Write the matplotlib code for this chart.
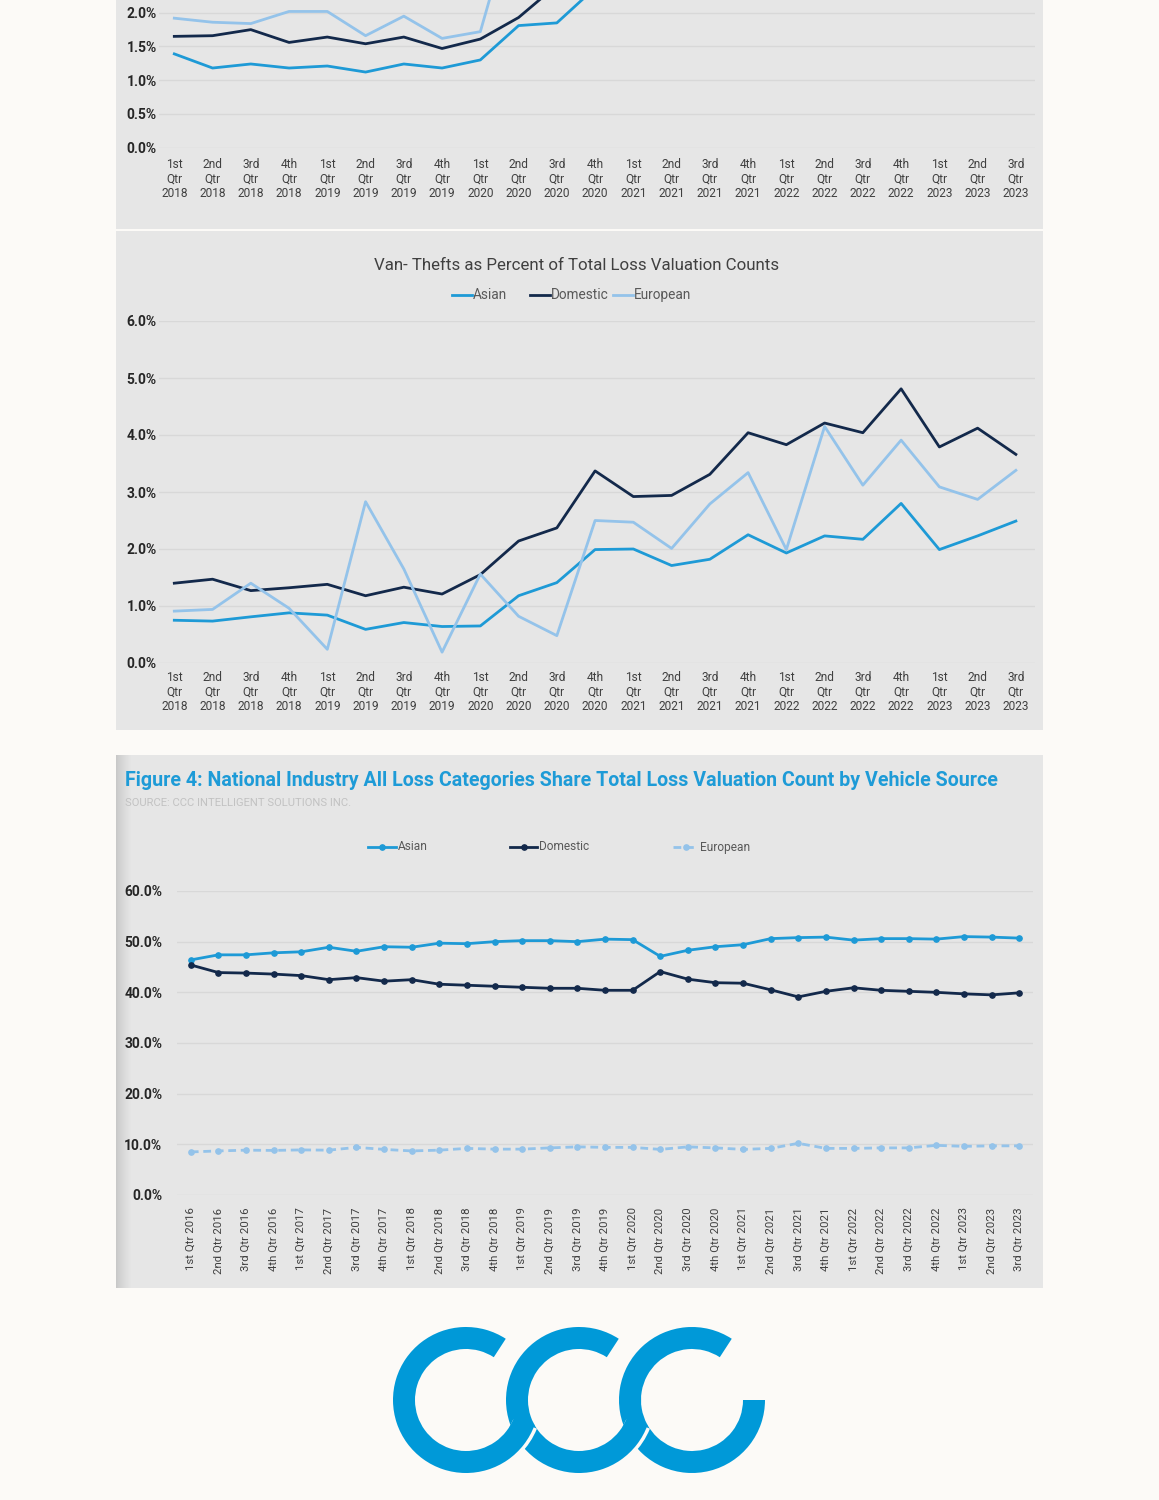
import numpy as np
import matplotlib
matplotlib.use("Agg")
import matplotlib.pyplot as plt
from matplotlib.patches import Rectangle, Wedge
from matplotlib.lines import Line2D

W, H = 1159, 1500
BG = "#FCFAF7"
PANEL = "#E6E6E6"
GRID = "#D8D8D8"
C_ASIAN = "#1E9AD6"
C_DOM = "#13294B"
C_EUR = "#94C3EA"
TXT = "#404040"
LOGO = "#0099D8"

plt.rcParams["font.family"] = ["Roboto", "DejaVu Sans"]

nan = np.nan

# ---------------- data ----------------
series_names = ["Asian", "Domestic", "European"]

quarters_18_23 = [
    "1st\nQtr\n2018", "2nd\nQtr\n2018", "3rd\nQtr\n2018", "4th\nQtr\n2018",
    "1st\nQtr\n2019", "2nd\nQtr\n2019", "3rd\nQtr\n2019", "4th\nQtr\n2019",
    "1st\nQtr\n2020", "2nd\nQtr\n2020", "3rd\nQtr\n2020", "4th\nQtr\n2020",
    "1st\nQtr\n2021", "2nd\nQtr\n2021", "3rd\nQtr\n2021", "4th\nQtr\n2021",
    "1st\nQtr\n2022", "2nd\nQtr\n2022", "3rd\nQtr\n2022", "4th\nQtr\n2022",
    "1st\nQtr\n2023", "2nd\nQtr\n2023", "3rd\nQtr\n2023",
]

# top (cropped) chart: values beyond the visible area are unknown
top_asian = [1.39, 1.18, 1.24, 1.18, 1.21, 1.12, 1.24, 1.18, 1.30, 1.81, 1.85, 2.37,
             nan, nan, nan, nan, nan, nan, nan, nan, nan, nan, nan]
top_domestic = [1.65, 1.66, 1.75, 1.56, 1.64, 1.54, 1.64, 1.47, 1.61, 1.93, 2.41, nan,
                nan, nan, nan, nan, nan, nan, nan, nan, nan, nan, nan]
top_european = [1.92, 1.86, 1.84, 2.02, 2.02, 1.66, 1.95, 1.62, 1.72, 3.70, nan, nan,
                nan, nan, nan, nan, nan, nan, nan, nan, nan, nan, nan]

# Van thefts as percent of total loss valuation counts
van_asian = [0.75, 0.735, 0.81, 0.88, 0.84, 0.59, 0.71, 0.64, 0.65, 1.18, 1.41, 1.99,
             2.00, 1.71, 1.82, 2.25, 1.93, 2.23, 2.17, 2.80, 1.99, 2.23, 2.49]
van_domestic = [1.40, 1.47, 1.27, 1.32, 1.38, 1.18, 1.33, 1.21, 1.55, 2.14, 2.37, 3.37,
                2.92, 2.94, 3.31, 4.04, 3.83, 4.21, 4.04, 4.81, 3.79, 4.12, 3.66]
van_european = [0.91, 0.94, 1.40, 0.96, 0.24, 2.83, 1.65, 0.19, 1.56, 0.82, 0.48, 2.50,
                2.47, 2.01, 2.79, 3.34, 1.99, 4.15, 3.12, 3.91, 3.09, 2.87, 3.38]

# Figure 4: share of total loss valuation count by vehicle source
quarters_16_23 = [
    "1st Qtr 2016", "2nd Qtr 2016", "3rd Qtr 2016", "4th Qtr 2016",
    "1st Qtr 2017", "2nd Qtr 2017", "3rd Qtr 2017", "4th Qtr 2017",
    "1st Qtr 2018", "2nd Qtr 2018", "3rd Qtr 2018", "4th Qtr 2018",
    "1st Qtr 2019", "2nd Qtr 2019", "3rd Qtr 2019", "4th Qtr 2019",
    "1st Qtr 2020", "2nd Qtr 2020", "3rd Qtr 2020", "4th Qtr 2020",
    "1st Qtr 2021", "2nd Qtr 2021", "3rd Qtr 2021", "4th Qtr 2021",
    "1st Qtr 2022", "2nd Qtr 2022", "3rd Qtr 2022", "4th Qtr 2022",
    "1st Qtr 2023", "2nd Qtr 2023", "3rd Qtr 2023",
]
share_asian = [46.4, 47.4, 47.4, 47.8, 48.0, 48.9, 48.1, 49.0, 48.9, 49.7, 49.6, 50.0,
               50.2, 50.2, 50.0, 50.5, 50.4, 47.1, 48.3, 49.0, 49.4, 50.6, 50.8, 50.9,
               50.3, 50.6, 50.6, 50.5, 51.0, 50.9, 50.7]
share_domestic = [45.4, 43.9, 43.8, 43.6, 43.3, 42.5, 42.9, 42.2, 42.5, 41.6, 41.4, 41.2,
                  41.0, 40.8, 40.8, 40.4, 40.4, 44.1, 42.6, 41.9, 41.8, 40.5, 39.1, 40.2,
                  40.9, 40.4, 40.2, 40.0, 39.7, 39.5, 39.9]
share_european = [8.5, 8.7, 8.85, 8.8, 8.9, 8.85, 9.4, 9.0, 8.7, 8.85, 9.2, 9.05,
                  9.05, 9.3, 9.5, 9.4, 9.4, 9.0, 9.5, 9.3, 9.0, 9.2, 10.2, 9.2,
                  9.2, 9.3, 9.3, 9.8, 9.6, 9.7, 9.7]

fig4_title = "Figure 4: National Industry All Loss Categories Share Total Loss Valuation Count by Vehicle Source"
fig4_source = "SOURCE: CCC INTELLIGENT SOLUTIONS INC."
van_title = "Van- Thefts as Percent of Total Loss Valuation Counts"

# ---------------- figure ----------------
fig = plt.figure(figsize=(W / 100, H / 100), dpi=100)
fig.patch.set_facecolor(BG)


def Y(y):
    return H - y


def fig_rect(x0, y0, x1, y1):
    return [x0 / W, 1 - y1 / H, (x1 - x0) / W, (y1 - y0) / H]


bg = fig.add_axes([0, 0, 1, 1], zorder=-1)
bg.set_xlim(0, W)
bg.set_ylim(0, H)
bg.axis("off")

# panel backgrounds
for (x0, y0, x1, y1) in [(116, 0, 1043, 229), (116, 231, 1043, 730), (116, 755, 1043, 1288)]:
    bg.add_patch(Rectangle((x0, Y(y1)), x1 - x0, y1 - y0, facecolor=PANEL, edgecolor="none"))
# left shading of the third panel
shade_from = np.array([0xC8, 0xC8, 0xC8]) / 255
shade_to = np.array([0xE6, 0xE6, 0xE6]) / 255
for i in range(16):
    t = (i / 15) ** 0.8
    col = shade_from * (1 - t) + shade_to * t
    bg.add_patch(Rectangle((116 + i, Y(1288)), 1, 1288 - 755, facecolor=col, edgecolor="none"))


def style_axes(ax, ypad, fmt):
    ax.set_facecolor("none")
    for s in ax.spines.values():
        s.set_visible(False)
    ax.yaxis.grid(True, color=GRID, lw=1.0)
    ax.set_axisbelow(True)
    ax.tick_params(length=0)
    ax.tick_params(axis="y", pad=ypad, labelsize=10, labelcolor="#262626")
    for lab in ax.get_yticklabels():
        lab.set_fontweight("bold")
    ax.yaxis.set_major_formatter(matplotlib.ticker.FuncFormatter(lambda v, p: fmt.format(v)))


LW = 2.0

# ---- top cropped chart ----
ax1 = fig.add_axes(fig_rect(159, 0, 1035, 147.5))
x23 = np.arange(len(quarters_18_23))
ax1.plot(x23, top_asian, color=C_ASIAN, lw=LW)
ax1.plot(x23, top_domestic, color=C_DOM, lw=LW)
ax1.plot(x23, top_european, color=C_EUR, lw=LW)
ax1.set_xlim(-0.4, 22.5)
ax1.set_ylim(0, 2.19)
ax1.set_yticks([0, 0.5, 1.0, 1.5, 2.0])
ax1.set_xticks(x23)
ax1.set_xticklabels(quarters_18_23, fontsize=8.6, color=TXT, linespacing=1.15)
ax1.tick_params(axis="x", pad=7.5)
style_axes(ax1, 1.5, "{:.1f}%")

# ---- van chart ----
ax2 = fig.add_axes(fig_rect(159, 321, 1035, 663))
ax2.plot(x23, van_asian, color=C_ASIAN, lw=LW)
ax2.plot(x23, van_domestic, color=C_DOM, lw=LW)
ax2.plot(x23, van_european, color=C_EUR, lw=LW)
ax2.set_xlim(-0.4, 22.5)
ax2.set_ylim(0, 6)
ax2.set_yticks(np.arange(0, 7, 1))
ax2.set_xticks(x23)
ax2.set_xticklabels(quarters_18_23, fontsize=8.6, color=TXT, linespacing=1.15)
ax2.tick_params(axis="x", pad=5.5)
style_axes(ax2, 1.5, "{:.1f}%")

bg.text(577, Y(266), van_title, ha="center", va="center", fontsize=12.2, color=TXT)
leg2 = [(452, 472, C_ASIAN, "Asian"), (530, 550, C_DOM, "Domestic"), (613, 633, C_EUR, "European")]
for xa, xb, c, name in leg2:
    bg.add_line(Line2D([xa, xb], [Y(295), Y(295)], color=c, lw=LW))
    bg.text(xb + 1, Y(295), name, ha="left", va="center", fontsize=9.8, color="#595959")

# ---- figure 4 chart ----
ax3 = fig.add_axes(fig_rect(177, 891, 1033, 1195))
x31 = np.arange(len(quarters_16_23))
MS = 3.8
ax3.plot(x31, share_asian, color=C_ASIAN, lw=LW, marker="o", ms=MS)
ax3.plot(x31, share_domestic, color=C_DOM, lw=LW, marker="o", ms=MS)
ax3.plot(x31, share_european, color=C_EUR, lw=LW, marker="o", ms=MS, dashes=(2.8, 1.7))
ax3.set_xlim(-0.5, 30.5)
ax3.set_ylim(0, 60)
ax3.set_yticks(np.arange(0, 61, 10))
ax3.set_xticks(x31)
ax3.set_xticklabels(quarters_16_23, fontsize=8.2, color=TXT, rotation=90, va="top", ha="center")
ax3.tick_params(axis="x", pad=9)
style_axes(ax3, 10.5, "{:.1f}%")

bg.text(125, Y(780), fig4_title, ha="left", va="center", fontsize=14.1, fontweight="bold", color="#1E9BD7")
bg.text(125, Y(803), fig4_source, ha="left", va="center", fontsize=8.1, color="#C2C2C2")
leg3 = [(368, 396, C_ASIAN, "Asian", None), (510, 537, C_DOM, "Domestic", None),
        (673, 698, C_EUR, "European", (2.8, 1.7))]
for xa, xb, c, name, d in leg3:
    ln = Line2D([xa, xb], [Y(847), Y(847)], color=c, lw=LW)
    if d is not None:
        ln.set_dashes(d)
    bg.add_line(ln)
    bg.add_line(Line2D([(xa + xb) / 2], [Y(847)], color=c, marker="o", ms=MS))
    bg.text(xb + 2, Y(847), name, ha="left", va="center", fontsize=8.6, color="#595959")

# ---- CCC logo ----
r_out, ring_w = 73, 22
centers = [466, 579, 692]
cy = Y(1400)
# C3 drawn first; each earlier C passes over the next one with a thin gap
bg.add_patch(Wedge((centers[2], cy), r_out, 57, 360, width=ring_w, facecolor=LOGO, edgecolor="none"))
bg.add_patch(Wedge((centers[1], cy), r_out + 3.5, 292, 338, width=ring_w + 3.5, facecolor=BG, edgecolor="none"))
bg.add_patch(Wedge((centers[1], cy), r_out, 57, 340, width=ring_w, facecolor=LOGO, edgecolor="none"))
bg.add_patch(Wedge((centers[0], cy), r_out + 3.5, 292, 338, width=ring_w + 3.5, facecolor=BG, edgecolor="none"))
bg.add_patch(Wedge((centers[0], cy), r_out, 57, 340, width=ring_w, facecolor=LOGO, edgecolor="none"))

fig.savefig("out.png", dpi=100, facecolor=BG)
